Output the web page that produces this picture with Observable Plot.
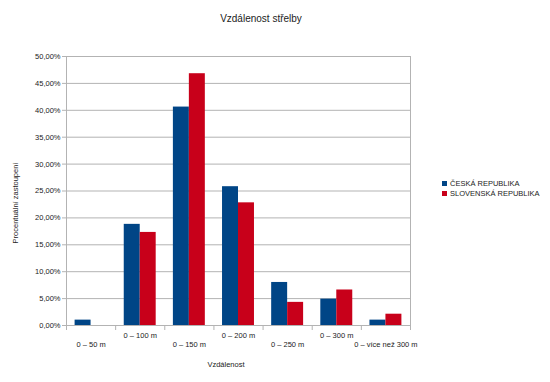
<!DOCTYPE html>
<html><head><meta charset="utf-8">
<script src="https://cdn.jsdelivr.net/npm/d3@7"></script>
<script src="https://cdn.jsdelivr.net/npm/@observablehq/plot@0.6"></script>
<style>
body{margin:0;background:#fff;font-family:"Liberation Sans",Arial,sans-serif;color:#222}
#wrap{position:relative;width:550px;height:382px;overflow:hidden}
#wrap svg{position:absolute;left:0;top:0}
.title{position:absolute;top:13px;left:0;width:522px;text-align:center;font-size:10px;color:#222}
.xlab{position:absolute;top:360px;left:0;width:452px;text-align:center;font-size:7.5px;color:#222}
.ylab{position:absolute;left:15px;top:203px;font-size:7.5px;white-space:nowrap;transform:translate(-50%,-50%) rotate(-90deg);color:#222}
.legend{position:absolute;left:442px;top:179px;font-size:7.5px;line-height:10px;color:#222}
.legend span.sw{display:inline-block;width:5px;height:5px;margin-right:3px;vertical-align:0px}
</style></head><body>
<div id="wrap"></div>
<script>
const categories = ["0 – 50 m", "0 – 100 m", "0 – 150 m", "0 – 200 m", "0 – 250 m", "0 – 300 m", "0 – více než 300 m"];
const series = ["ČESKÁ REPUBLIKA", "SLOVENSKÁ REPUBLIKA"];
const czValues = [1.0, 18.8, 40.6, 25.8, 8.0, 4.9, 1.0];
const skValues = [0, 17.3, 46.8, 22.8, 4.3, 6.6, 2.1];
const colors = ["#004586", "#c8001a"];
const yTicks = [0, 5, 10, 15, 20, 25, 30, 35, 40, 45, 50];
const titleText = "Vzdálenost střelby";
const xTitle = "Vzdálenost";
const yTitle = "Procentuální zastoupení";

const groupPad = 0.175; // fraction of category left empty on each side
const barW = (1 - 2 * groupPad) / series.length;

const data = [];
categories.forEach((c, i) => {
  [czValues, skValues].forEach((vals, s) => {
    data.push({i, cat: c, s, series: series[s], value: vals[i]});
  });
});

const fmt = d => d.toFixed(2).replace(".", ",") + "%";
const idx = d3.range(categories.length);

const plot = Plot.plot({
  width: 550,
  height: 382,
  marginTop: 56,
  marginBottom: 57,
  marginLeft: 66,
  marginRight: 140,
  style: {fontFamily: "Liberation Sans, Arial, sans-serif", fontSize: "7.5px", background: "transparent"},
  x: {domain: [0, categories.length], axis: null},
  y: {domain: [0, 50], axis: null},
  color: {domain: series, range: colors},
  marks: [
    Plot.gridY(yTicks, {stroke: "#b3b3b3", strokeOpacity: 1}),
    Plot.ruleX([0, categories.length], {stroke: "#b3b3b3"}),
    Plot.rectY(data, {
      x1: d => d.i + groupPad + d.s * barW,
      x2: d => d.i + groupPad + (d.s + 1) * barW,
      y1: 0,
      y2: "value",
      fill: "series"
    }),
    Plot.ruleY([0], {stroke: "#b3b3b3"}),
    Plot.axisY({ticks: yTicks, tickFormat: fmt, tickSize: 4, tickPadding: 2, stroke: "#b3b3b3", fill: "#222", label: null}),
    Plot.axisX({ticks: d3.range(categories.length + 1), tickFormat: () => "", tickSize: 5, stroke: "#b3b3b3", label: null}),
    Plot.axisX({ticks: idx.filter(i => i % 2 === 0).map(i => i + 0.5), tickFormat: v => categories[Math.floor(v)], tickSize: 0, tickPadding: 16, fill: "#222", label: null}),
    Plot.axisX({ticks: idx.filter(i => i % 2 === 1).map(i => i + 0.5), tickFormat: v => categories[Math.floor(v)], tickSize: 0, tickPadding: 7.5, fill: "#222", label: null})
  ]
});

const wrap = document.getElementById("wrap");
wrap.appendChild(plot);

const t = document.createElement("div"); t.className = "title"; t.textContent = titleText; wrap.appendChild(t);
const xl = document.createElement("div"); xl.className = "xlab"; xl.textContent = xTitle; wrap.appendChild(xl);
const yl = document.createElement("div"); yl.className = "ylab"; yl.textContent = yTitle; wrap.appendChild(yl);
const lg = document.createElement("div"); lg.className = "legend";
series.forEach((s, k) => {
  const row = document.createElement("div");
  const sw = document.createElement("span"); sw.className = "sw"; sw.style.background = colors[k];
  row.appendChild(sw); row.appendChild(document.createTextNode(s));
  lg.appendChild(row);
});
wrap.appendChild(lg);
</script>
</body></html>
